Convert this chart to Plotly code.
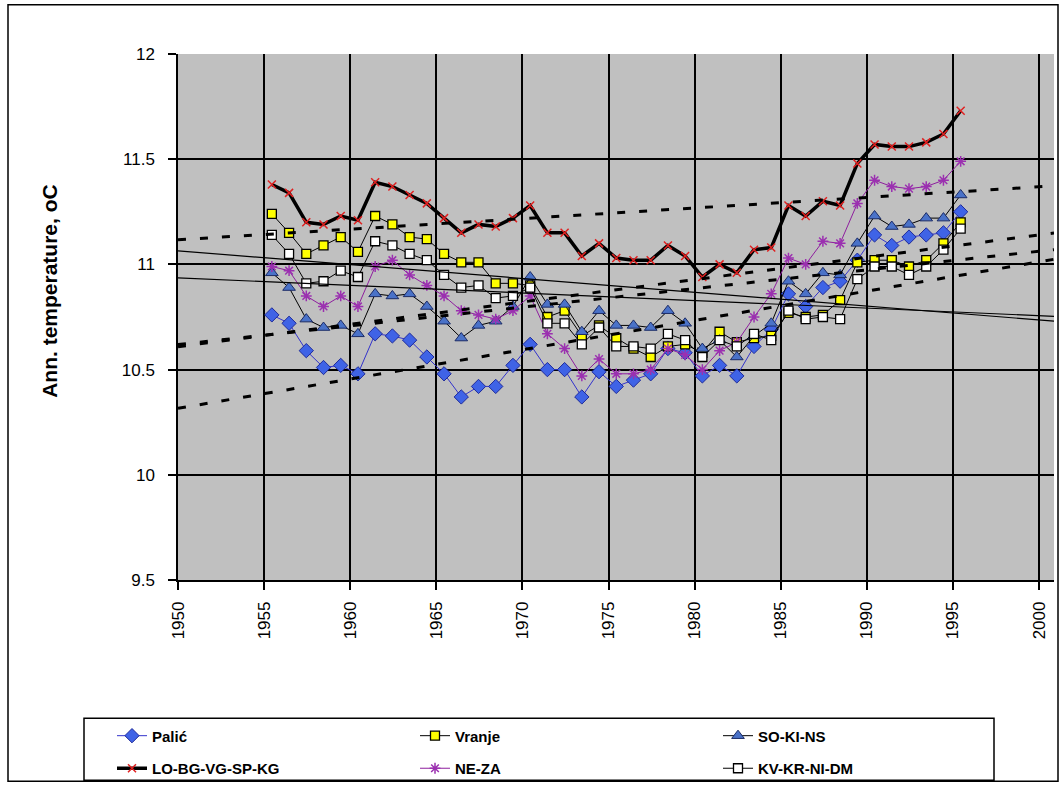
import numpy as np
import plotly.graph_objects as go

years = list(range(1955, 1996))

palic = [10.76, 10.72, 10.59, 10.51, 10.52, 10.48, 10.67, 10.66, 10.64, 10.56,
         10.48, 10.37, 10.42, 10.42, 10.52, 10.62, 10.50, 10.50, 10.37, 10.49,
         10.42, 10.45, 10.48, 10.60, 10.58, 10.47, 10.52, 10.47, 10.61, 10.69,
         10.86, 10.80, 10.89, 10.92, 11.02, 11.14, 11.09, 11.13, 11.14, 11.15,
         11.25]
vranje = [11.24, 11.15, 11.05, 11.09, 11.13, 11.06, 11.23, 11.19, 11.13, 11.12,
          11.05, 11.01, 11.01, 10.91, 10.91, 10.90, 10.75, 10.78, 10.66, 10.71,
          10.65, 10.60, 10.56, 10.61, 10.62, 10.58, 10.68, 10.63, 10.65, 10.66,
          10.77, 10.75, 10.76, 10.83, 11.01, 11.02, 11.02, 10.99, 11.02, 11.10,
          11.20]
so_ki_ns = [10.96, 10.89, 10.74, 10.70, 10.71, 10.67, 10.86, 10.85, 10.86, 10.80,
            10.73, 10.65, 10.71, 10.73, 10.80, 10.94, 10.81, 10.81, 10.68, 10.78,
            10.71, 10.71, 10.70, 10.78, 10.72, 10.60, 10.64, 10.56, 10.66, 10.72,
            10.92, 10.86, 10.96, 10.95, 11.10, 11.23, 11.18, 11.19, 11.22, 11.22,
            11.33]
lo_bg = [11.38, 11.34, 11.20, 11.19, 11.23, 11.21, 11.39, 11.37, 11.33, 11.29,
         11.22, 11.15, 11.19, 11.18, 11.22, 11.28, 11.15, 11.15, 11.04, 11.10,
         11.03, 11.02, 11.02, 11.09, 11.04, 10.94, 11.00, 10.96, 11.07, 11.08,
         11.28, 11.23, 11.30, 11.28, 11.48, 11.57, 11.56, 11.56, 11.58, 11.62,
         11.73]
ne_za = [10.99, 10.97, 10.85, 10.80, 10.85, 10.80, 10.99, 11.02, 10.95, 10.90,
         10.85, 10.78, 10.76, 10.74, 10.78, 10.85, 10.67, 10.60, 10.47, 10.55,
         10.48, 10.48, 10.50, 10.60, 10.57, 10.50, 10.59, 10.63, 10.75, 10.86,
         11.03, 11.00, 11.11, 11.10, 11.29, 11.40, 11.37, 11.36, 11.37, 11.40,
         11.49]
kv_kr = [11.14, 11.05, 10.91, 10.92, 10.97, 10.94, 11.11, 11.09, 11.05, 11.02,
         10.95, 10.89, 10.90, 10.84, 10.85, 10.89, 10.72, 10.72, 10.62, 10.70,
         10.61, 10.61, 10.60, 10.67, 10.64, 10.56, 10.64, 10.61, 10.67, 10.64,
         10.78, 10.74, 10.75, 10.74, 10.93, 10.99, 10.99, 10.95, 10.99, 11.07,
         11.17]

names = ["Palić", "Vranje", "SO-KI-NS", "LO-BG-VG-SP-KG", "NE-ZA", "KV-KR-NI-DM"]
x_ticks = list(range(1950, 2001, 5))
y_ticks = [9.5, 10, 10.5, 11, 11.5, 12]
y_title = "Ann. temperature, oC"

X_SHIFT = 0.45          # points sit a little right of the year grid line
X_RANGE = [1950, 2000.87]
x = np.array([yr + X_SHIFT for yr in years])

styles = [
    dict(line=dict(color="#3333CC", width=1),
         marker=dict(symbol="diamond", size=11, color="#3F63E6",
                     line=dict(color="#1E2A9A", width=1)), legend="legend", trend="dash"),
    dict(line=dict(color="black", width=1),
         marker=dict(symbol="square", size=9, color="#FFFF00",
                     line=dict(color="black", width=1.3)), legend="legend", trend="solid"),
    dict(line=dict(color="black", width=1),
         marker=dict(symbol="triangle-up", size=11, color="#4A72C8",
                     line=dict(color="#1B2B66", width=1)), legend="legend", trend="dash"),
    dict(line=dict(color="black", width=3.5),
         marker=dict(symbol="x-thin-open", size=8, color="#E02020",
                     line=dict(color="#E02020", width=1.5)), legend="legend2", trend="dash"),
    dict(line=dict(color="#8E1E9E", width=1),
         marker=dict(symbol="asterisk-open", size=9, color="#9B30B0",
                     line=dict(color="#9B30B0", width=1.5)), legend="legend2", trend="dash"),
    dict(line=dict(color="black", width=1),
         marker=dict(symbol="square", size=9, color="white",
                     line=dict(color="black", width=1.3)), legend="legend2", trend="solid"),
]
data = [palic, vranje, so_ki_ns, lo_bg, ne_za, kv_kr]

fig = go.Figure()
for name, vals, st in zip(names, data, styles):
    fig.add_trace(go.Scatter(x=x, y=vals, name=name, mode="lines+markers",
                             line=st["line"], marker=st["marker"], legend=st["legend"]))

# linear trend lines (least squares on each series), extended over the axis
xt = np.array(X_RANGE)
for vals, st in zip(data, styles):
    k, b = np.polyfit(x, np.array(vals), 1)
    if st["trend"] == "dash":
        ln = dict(color="black", width=3, dash="8px,14px")
    else:
        ln = dict(color="black", width=1.2)
    fig.add_trace(go.Scatter(x=xt, y=k * xt + b, mode="lines", line=ln,
                             showlegend=False, hoverinfo="skip"))

W, H = 1061, 792
L, R, T, B = 178, 7, 54, 205
pw, ph = W - L - R, H - T - B


def px(xp):
    return (xp - L) / pw


def py(yp):
    return (H - B - yp) / ph


legend_font = dict(family="Liberation Sans", size=15, color="black", weight="bold")
fig.update_layout(
    width=W, height=H,
    margin=dict(l=L, r=R, t=T, b=B),
    paper_bgcolor="white",
    plot_bgcolor="#C0C0C0",
    font=dict(family="Liberation Sans", color="black"),
    xaxis=dict(range=X_RANGE, tickvals=x_ticks, tickangle=-90,
               showgrid=True, gridcolor="black", gridwidth=1.5,
               showline=True, linecolor="black", linewidth=1.5,
               ticks="outside", ticklen=8, tickcolor="black", tickwidth=1.5,
               ticklabelstandoff=5,
               tickfont=dict(size=17, family="Liberation Sans"), zeroline=False),
    yaxis=dict(range=[9.5, 12], tickvals=y_ticks,
               showgrid=True, gridcolor="black", gridwidth=1.5,
               showline=True, linecolor="black", linewidth=1.5,
               ticks="outside", ticklen=8, tickcolor="black", tickwidth=1.5,
               ticklabelstandoff=10,
               tickfont=dict(size=17, family="Liberation Sans"), zeroline=False),
    annotations=[
        dict(text=y_title, textangle=-90, xref="paper", yref="paper",
             x=px(50), y=py(294), xanchor="center", yanchor="middle", showarrow=False,
             font=dict(size=21, family="Liberation Sans", weight="bold", color="black")),
    ],
    legend=dict(orientation="h", x=px(112), y=py(745), xanchor="left", yanchor="middle",
                entrywidth=258, entrywidthmode="pixels", bgcolor="rgba(0,0,0,0)",
                borderwidth=0, font=legend_font),
    legend2=dict(orientation="h", x=px(112), y=py(778), xanchor="left", yanchor="middle",
                 entrywidth=258, entrywidthmode="pixels", bgcolor="rgba(0,0,0,0)",
                 borderwidth=0, font=legend_font),
    shapes=[
        dict(type="rect", xref="paper", yref="paper", x0=px(84), x1=px(994),
             y0=py(727), y1=py(790), line=dict(color="black", width=1.5),
             fillcolor="rgba(0,0,0,0)", layer="below"),
        dict(type="rect", xref="paper", yref="paper", x0=px(8), x1=px(1058),
             y0=py(4), y1=py(791), line=dict(color="black", width=1.5),
             fillcolor="rgba(0,0,0,0)", layer="below"),
    ],
)

# place the figure at the page origin so it fills the 1061x792 window exactly,
# with no scrolling overflow
fig.write_html(
    "out.html", config={"displayModeBar": False},
    post_script=("document.body.style.margin='0';"
                 "document.body.style.overflow='hidden';"
                 "document.documentElement.style.overflow='hidden';"))
